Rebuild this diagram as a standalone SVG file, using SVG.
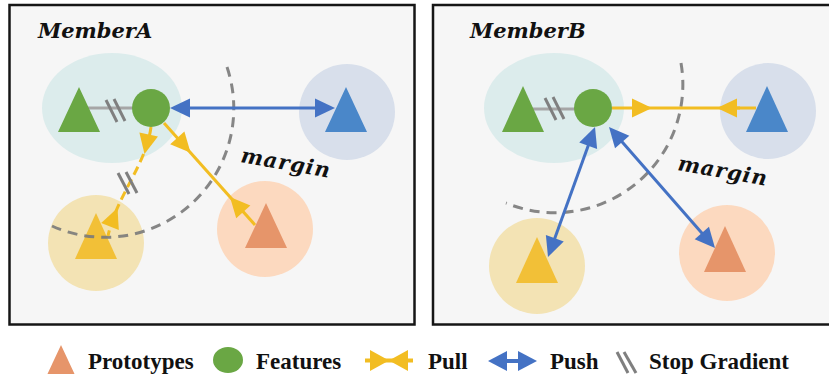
<svg xmlns="http://www.w3.org/2000/svg" width="829" height="374" viewBox="0 0 829 374">
<style>
.panel{fill:#f6f6f6;stroke:#161616;stroke-width:2.5}
.title{font-family:"DejaVu Serif",serif;font-weight:bold;font-style:italic;font-size:21px;fill:#111;letter-spacing:0px}
.mtext{font-family:"DejaVu Serif",serif;font-weight:bold;font-style:italic;font-size:21px;fill:#111;letter-spacing:1px}
.leg{font-family:"Liberation Serif","Times New Roman",serif;font-weight:bold;font-size:23px;fill:#111}
.teal{fill:#dcecec}
.green{fill:#6aa744}
.bluebg{fill:#d8dfeb}
.bluetri{fill:#4a87c9}
.yelbg{fill:#f3e3b4}
.yeltri{fill:#f2c037}
.orbg{fill:#fcd9bf}
.ortri{fill:#e6956a}
.arc{fill:none;stroke:#7a7a7a;stroke-width:3;stroke-dasharray:10 7;opacity:0.9}
.yel{fill:none;stroke:#f2bd22;stroke-width:3}
.dash{stroke-dasharray:9 5}
.blue{fill:none;stroke:#4472c4;stroke-width:3}
.sg{stroke:#a6a6a6;stroke-width:3}
.mark{stroke:#7f7f7f;stroke-width:3;stroke-linecap:butt}
</style>
<defs>
<path id="ahY" d="M0,0 L-20,-9.5 L-20,9.5 Z" fill="#f2bd22"/>
<path id="ahB" d="M0,0 L-20,-9.5 L-20,9.5 Z" fill="#4472c4"/>
</defs>

<rect class="panel" x="9.5" y="5" width="405" height="319.5"/>
<rect class="panel" x="433" y="5" width="400" height="319.5"/>

<text class="title" x="38" y="38">MemberA</text>
<text class="title" x="470" y="38">MemberB</text>

<!-- Panel A nodes -->
<g id="a-anchor">
<ellipse class="teal" cx="112" cy="108" rx="70" ry="55"/>
</g>
<g id="a-blue">
<circle class="bluebg" cx="347" cy="112" r="48"/>
<polygon class="bluetri" points="346,87 325,132 367,132"/>
</g>
<g id="a-yellow">
<circle class="yelbg" cx="96" cy="243" r="48"/>
<polygon class="yeltri" points="96,213 75,259 117,259"/>
</g>
<g id="a-orange">
<circle class="orbg" cx="265" cy="229" r="48"/>
<polygon class="ortri" points="266,203 245,248 287,248"/>
</g>
<path class="arc" d="M227,67 A129,129 0 0 1 52,226"/>
<text class="mtext" transform="translate(240,162) rotate(10)">margin</text>

<!-- Panel B nodes -->
<g id="b-anchor">
<ellipse class="teal" cx="554" cy="108" rx="70" ry="55"/>
</g>
<g id="b-blue">
<circle class="bluebg" cx="768" cy="111" r="48"/>
<polygon class="bluetri" points="767,86 746,132 788,132"/>
</g>
<g id="b-yellow">
<circle class="yelbg" cx="537" cy="266" r="48"/>
<polygon class="yeltri" points="537,237 516,283 558,283"/>
</g>
<g id="b-orange">
<circle class="orbg" cx="727" cy="253" r="48"/>
<polygon class="ortri" points="725,226 704,272 746,272"/>
</g>
<path class="arc" d="M681,63 A128,128 0 0 1 506,203"/>
<text class="mtext" transform="translate(677,170) rotate(10)">margin</text>

<g id="connectors">
<!-- Panel A -->
<line class="sg" x1="82" y1="108" x2="140" y2="108"/>
<line class="mark" x1="106" y1="100" x2="117" y2="122"/>
<line class="mark" x1="114" y1="99" x2="125" y2="121"/>
<line class="blue" x1="185" y1="108" x2="320" y2="108"/>
<use href="#ahB" transform="translate(170,108) rotate(180)"/>
<use href="#ahB" transform="translate(335,108)"/>
<line class="yel" x1="164" y1="123" x2="255" y2="225"/>
<use href="#ahY" transform="translate(190.6,152.8) rotate(48.3)"/>
<use href="#ahY" transform="translate(230,197) rotate(228.3)"/>
<path class="yel dash" d="M151,127 C146,165 117,195 108,236"/>
<use href="#ahY" transform="translate(144.5,154) rotate(102)"/>
<use href="#ahY" transform="translate(117.5,208) rotate(-68)"/>
<line class="mark" x1="118" y1="173" x2="129" y2="194"/>
<line class="mark" x1="126" y1="172" x2="137" y2="193"/>
<!-- Panel B -->
<line class="sg" x1="526" y1="109" x2="582" y2="109"/>
<line class="mark" x1="545" y1="98" x2="556" y2="120"/>
<line class="mark" x1="553" y1="97" x2="564" y2="119"/>
<line class="yel" x1="612" y1="108" x2="740" y2="108"/>
<line class="yel" x1="735" y1="108" x2="756" y2="108" stroke-width="4.5"/>
<use href="#ahY" transform="translate(652,108)"/>
<use href="#ahY" transform="translate(717,108) rotate(180)"/>
<line class="blue" x1="589.9" y1="141.1" x2="553.1" y2="242.9"/>
<use href="#ahB" transform="translate(595,127) rotate(-70.1)"/>
<use href="#ahB" transform="translate(548,257) rotate(109.9)"/>
<line class="blue" x1="618.9" y1="138.3" x2="705.1" y2="236.7"/>
<use href="#ahB" transform="translate(609,127) rotate(-131.2)"/>
<use href="#ahB" transform="translate(715,248) rotate(48.8)"/>
</g>

<g id="a-anchor-shapes">
<polygon class="green" points="79,87 58,132 100,132"/>
</g>
<g id="a-feature">
<circle class="green" cx="151" cy="108" r="19"/>
</g>
<g id="b-anchor-shapes">
<polygon class="green" points="523,86 502,132 544,132"/>
</g>
<g id="b-feature">
<circle class="green" cx="593" cy="108" r="19"/>
</g>

<g id="legend">
<polygon class="ortri" points="61,345 47,375 75,375"/>
<text class="leg" x="88" y="369">Prototypes</text>
<ellipse class="green" cx="228" cy="360" rx="15" ry="13"/>
<text class="leg" x="256" y="369">Features</text>
<line x1="365" y1="360.5" x2="413" y2="360.5" stroke="#f2bd22" stroke-width="4"/>
<polygon points="370,350 389,360.5 370,371" fill="#f2bd22"/>
<polygon points="408,350 389,360.5 408,371" fill="#f2bd22"/>
<text class="leg" x="428" y="369">Pull</text>
<line x1="500" y1="361" x2="525" y2="361" stroke="#4472c4" stroke-width="4"/>
<polygon points="488,361 507,351 507,371" fill="#4472c4"/>
<polygon points="537,361 518,351 518,371" fill="#4472c4"/>
<text class="leg" x="550" y="369">Push</text>
<line class="mark" x1="617" y1="352" x2="628" y2="373"/>
<line class="mark" x1="624" y1="352" x2="636" y2="373"/>
<text class="leg" x="649" y="369">Stop Gradient</text>
</g>
</svg>
